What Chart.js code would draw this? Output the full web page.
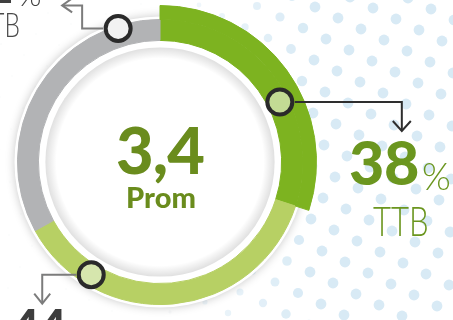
<!DOCTYPE html>
<html><head><meta charset="utf-8">
<script src="https://cdn.jsdelivr.net/npm/chart.js@4/dist/chart.umd.min.js"></script>
<style>
html,body{margin:0;padding:0;background:#fff;overflow:hidden}
#wrap{position:relative;width:453px;height:320px;overflow:hidden}
#c{position:absolute;left:0;top:0}
.t{position:absolute;white-space:nowrap;line-height:1;font-family:Lato,"Open Sans",sans-serif}
</style></head><body>
<div id="wrap">
<canvas id="c" width="453" height="320"></canvas>
<div class="t" id="avg" style="left:60px;width:200px;text-align:center;top:117px;font-size:65px;font-weight:900;color:#6a8c1d;letter-spacing:-1px"></div>
<div class="t" id="avgLbl" style="left:61px;width:200px;text-align:center;top:182px;font-size:29px;font-weight:900;color:#6a8c1d"></div>
<div class="t" id="pR" style="left:349px;top:131px;font-size:61px;font-weight:900;color:#6b961f;letter-spacing:-0.5px"></div>
<div class="t" id="pRs" style="left:422px;top:157px;font-size:37px;font-weight:300;color:#6b961f">%</div>
<div class="t" id="lR" style="left:373px;top:199px;font-size:42px;font-weight:300;color:#6b961f;transform:scaleX(0.74);transform-origin:left top"></div>
<div class="t" id="pL" style="left:-87px;width:100px;text-align:right;top:-38px;font-size:47px;font-weight:900;color:#3f3f3f"></div>
<div class="t" id="pLs" style="left:18px;top:-21px;font-size:30px;font-weight:300;color:#3f3f3f">%</div>
<div class="t" id="lL" style="left:-80px;width:100px;text-align:right;top:7px;font-size:34px;font-weight:300;color:#4a4a4a;transform:scaleX(0.72);transform-origin:right top"></div>
<div class="t" id="pB" style="left:12px;top:303px;font-size:47px;font-weight:900;color:#3d3d3d"></div>
</div>
<script>
// ---- data ----
const categories = ['TTB', 'Medio', 'TTB izq.'];
const segmentShares = [30, 37, 33];           // arc sizes as drawn (% of ring)
const segmentColors = ['#7db320', '#b7d064', '#b2b3b5'];
const labelValues = ['38', '22', '44'];       // percentages printed next to the ring
const labelNames = ['TTB', 'TTB', ''];
const averageValue = '3,4';
const averageLabel = 'Prom';

document.getElementById('avg').textContent = averageValue;
document.getElementById('avgLbl').textContent = averageLabel;
document.getElementById('pR').textContent = labelValues[0];
document.getElementById('lR').textContent = labelNames[0];
document.getElementById('pL').textContent = labelValues[1];
document.getElementById('lL').textContent = labelNames[1];
document.getElementById('pB').textContent = labelValues[2];

// markers placed on the ring (angle clockwise from top, radius)
const markers = [
  {ang: 63.4, r: 134, fill: '#c3db94', line: '#2e2e2e',
   path: [[15,0],[122,0],[122,28]], arrow: [[113,19],[122,29],[131,19]]},
  {ang: 342.6, r: 140, fill: '#f2f2f2', line: '#7c7c7c',
   path: [[-15,0],[-36,0],[-36,-23],[-55,-23]], arrow: [[-46,-30],[-56,-23],[-46,-16]]},
  {ang: 211.4, r: 132, fill: '#d6e6ad', line: '#7c7c7c',
   path: [[-15,0],[-49,0],[-49,28]], arrow: [[-57,19],[-49,29],[-41,19]]}
];

const deco = {
  id: 'deco',
  beforeDraw(chart) {
    const ctx = chart.ctx;
    ctx.save();
    ctx.fillStyle = '#fff';
    ctx.fillRect(0, 0, chart.width, chart.height);
    const a = [23, 11], b = [-12, 21], o = [315, 7];
    for (let i = -40; i <= 40; i++) {
      for (let j = -40; j <= 40; j++) {
        const x = o[0] + i * a[0] + j * b[0];
        const y = o[1] + i * a[1] + j * b[1];
        if (x < -10 || x > chart.width + 10 || y < -10 || y > chart.height + 10) continue;
        const f = Math.max(0, Math.min(1, (x - 150) / 160));
        ctx.globalAlpha = 0.15 + 0.85 * f;
        ctx.fillStyle = f > 0.3 ? '#d8eaf5' : '#e2e8ec';
        ctx.beginPath();
        ctx.arc(x, y, 1.1 + 4.3 * f, 0, Math.PI * 2);
        ctx.fill();
      }
    }
    ctx.restore();
  },
  beforeDatasetsDraw(chart) {
    const ctx = chart.ctx;
    const arc = chart.getDatasetMeta(1).data[0];
    const x = arc.x, y = arc.y, rOut = arc.outerRadius, rIn = arc.innerRadius;
    ctx.save();
    ctx.shadowColor = 'rgba(0,0,0,0.22)';
    ctx.shadowBlur = 10;
    ctx.beginPath();
    ctx.arc(x, y, rOut + 3, 0, Math.PI * 2);
    ctx.fillStyle = '#fff';
    ctx.fill();
    ctx.restore();
    ctx.save();
    const r1 = rIn - 7, r0 = rIn - 18;
    const g = ctx.createRadialGradient(x, y, r0, x, y, r1);
    g.addColorStop(0, 'rgba(0,0,0,0)');
    g.addColorStop(1, 'rgba(0,0,0,0.12)');
    ctx.beginPath();
    ctx.arc(x, y, r1, 0, Math.PI * 2);
    ctx.fillStyle = g;
    ctx.fill();
    ctx.restore();
  },
  afterDatasetsDraw(chart) {
    const ctx = chart.ctx;
    const arc = chart.getDatasetMeta(1).data[0];
    const cx = arc.x, cy = arc.y;
    markers.forEach(m => {
      const t = m.ang * Math.PI / 180;
      const mx = cx + m.r * Math.sin(t), my = cy - m.r * Math.cos(t);
      ctx.save();
      ctx.strokeStyle = m.line;
      ctx.lineWidth = 2;
      ctx.lineJoin = 'miter';
      ctx.beginPath();
      m.path.forEach((p, k) => k ? ctx.lineTo(mx + p[0], my + p[1]) : ctx.moveTo(mx + p[0], my + p[1]));
      ctx.stroke();
      ctx.beginPath();
      m.arrow.forEach((p, k) => k ? ctx.lineTo(mx + p[0], my + p[1]) : ctx.moveTo(mx + p[0], my + p[1]));
      ctx.stroke();
      ctx.beginPath();
      ctx.arc(mx, my, 12.5, 0, Math.PI * 2);
      ctx.fillStyle = m.fill;
      ctx.fill();
      ctx.lineWidth = 4;
      ctx.strokeStyle = '#2a2a2a';
      ctx.stroke();
      ctx.restore();
    });
  }
};

new Chart(document.getElementById('c'), {
  type: 'doughnut',
  data: {
    labels: categories,
    datasets: [
      {
        data: [segmentShares[0], segmentShares[1] + segmentShares[2]],
        backgroundColor: [segmentColors[0], 'rgba(0,0,0,0)'],
        borderColor: [segmentColors[0], 'rgba(0,0,0,0)'],
        borderWidth: 1,
        borderJoinStyle: 'miter',
        weight: 14
      },
      {
        data: segmentShares,
        backgroundColor: segmentColors,
        borderColor: segmentColors,
        borderWidth: 1,
        borderJoinStyle: 'miter',
        weight: 21
      }
    ]
  },
  options: {
    responsive: false,
    animation: false,
    devicePixelRatio: 1,
    cutout: '77.7%',
    radius: '100%',
    layout: {padding: {left: 3, top: 5, right: 136, bottom: 1}},
    plugins: {legend: {display: false}, tooltip: {enabled: false}},
    events: []
  },
  plugins: [deco]
});
</script>
</body></html>
